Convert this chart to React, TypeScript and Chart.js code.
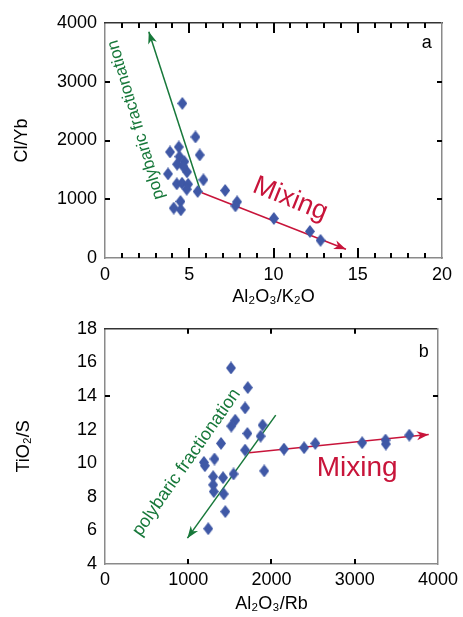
import React, { useEffect, useRef } from 'react';
import { Chart, registerables } from 'chart.js';

Chart.register(...registerables);

const FONT = '"Liberation Sans", Arial, Helvetica, sans-serif';
const BLUE = '#3f58a6';
const GREEN = '#17783a';
const RED = '#c8143a';
const FRAME = '#8a8a8a';
const FRAME_TOP = '#333333';

// ---------- Panel a : Cl/Yb vs Al2O3/K2O ----------
const aAl2O3K2O = [4.59, 5.37, 3.86, 4.38, 5.62, 4.42, 4.71, 4.28, 4.87, 3.74, 4.65, 5.84, 4.26, 4.57, 4.93, 4.85, 5.5, 7.13, 7.84, 7.74, 4.48, 4.08, 4.5, 10.02, 12.16, 12.79];
const aClYb = [2631, 2060, 1805, 1890, 1754, 1726, 1641, 1596, 1465, 1431, 1556, 1330, 1262, 1273, 1256, 1171, 1132, 1149, 956, 888, 962, 849, 820, 673, 453, 300];
const aMixX = [5.75, 14.3];
const aMixY = [1110, 150];
const aFracX = [5.7, 2.6];
const aFracY = [1110, 3850];
const aXTicks = [0, 5, 10, 15, 20];
const aYTicks = [0, 1000, 2000, 3000, 4000];
const aXMinor = [1, 2, 3, 4, 6, 7, 8, 9, 11, 12, 13, 14, 16, 17, 18, 19];
const aXMajor = [5, 10, 15];
const aYMarks = [1000, 2000, 3000];

// ---------- Panel b : TiO2/S vs Al2O3/Rb ----------
const bAl2O3Rb = [1513, 1715, 1683, 1564, 1517, 1893, 1711, 1869, 1394, 1683, 2150, 2392, 2526, 3089, 3370, 3374, 3655, 1188, 1200, 1315, 1544, 1913, 1299, 1418, 1299, 1307, 1426, 1445, 1240];
const bTiO2S = [15.67, 14.5, 13.29, 12.56, 12.21, 12.27, 11.77, 11.61, 11.18, 10.78, 10.84, 10.92, 11.18, 11.22, 11.38, 11.14, 11.67, 10.05, 9.85, 10.25, 9.36, 9.54, 9.2, 9.14, 8.71, 8.31, 8.17, 7.12, 6.1];
const bMixX = [1731, 3889];
const bMixY = [10.62, 11.71];
const bFracX = [2051, 990];
const bFracY = [12.86, 5.54];
const bXTicks = [0, 1000, 2000, 3000, 4000];
const bYTicks = [4, 6, 8, 10, 12, 14, 16, 18];
const bXMarks = [1000, 2000, 3000];
const bYMarks = [14];

type Note = { text: string; x: number; y: number; size: number; color: string; rotation: number; baseline?: CanvasTextBaseline };
type Mark = { side: 'top' | 'bottom' | 'left' | 'right'; values: number[]; len: number };

const aNotes: Note[] = [
  { text: 'a', x: 19.1, y: 3655, size: 18, color: '#000', rotation: 0 },
  { text: 'polybaric fractionation', x: 1.84, y: 2353, size: 17, color: GREEN, rotation: -106.5 },
  { text: 'Mixing', x: 10.99, y: 1002, size: 27, color: RED, rotation: 22 },
];
const bNotes: Note[] = [
  { text: 'b', x: 3829, y: 16.61, size: 18, color: '#000', rotation: 0 },
  { text: 'polybaric fractionation', x: 980, y: 10.04, size: 18, color: GREEN, rotation: -55 },
  { text: 'Mixing', x: 3030, y: 9.25, size: 28, color: RED, rotation: 0, baseline: 'alphabetic' },
];

const aMarks: Mark[] = [
  { side: 'bottom', values: aXMinor, len: 5 },
  { side: 'bottom', values: aXMajor, len: 10 },
  { side: 'top', values: aXMinor, len: 5 },
  { side: 'top', values: aXMajor, len: 10 },
  { side: 'left', values: aYMarks, len: 5 },
  { side: 'right', values: aYMarks, len: 5 },
];
const bMarks: Mark[] = [
  { side: 'bottom', values: bXMarks, len: 5 },
  { side: 'top', values: bXMarks, len: 5 },
  { side: 'left', values: bYMarks, len: 5 },
  { side: 'right', values: bYMarks, len: 5 },
];

function zip(xs: number[], ys: number[]) {
  return xs.map((x, i) => ({ x, y: ys[i] }));
}

function makeDiamond(): HTMLCanvasElement {
  const c = document.createElement('canvas');
  c.width = 10;
  c.height = 13;
  const g = c.getContext('2d')!;
  g.fillStyle = BLUE;
  g.beginPath();
  g.moveTo(5, 0);
  g.lineTo(10, 6.5);
  g.lineTo(5, 13);
  g.lineTo(0, 6.5);
  g.closePath();
  g.fill();
  return c;
}

const arrowPlugin = {
  id: 'arrowHeads',
  afterDatasetsDraw(chart: any) {
    const ctx = chart.ctx;
    chart.data.datasets.forEach((ds: any, i: number) => {
      if (!ds.arrowHead) return;
      const pts = chart.getDatasetMeta(i).data;
      const p1 = pts[pts.length - 2];
      const p2 = pts[pts.length - 1];
      const ang = Math.atan2(p2.y - p1.y, p2.x - p1.x);
      const L = 12, W = 4.5, back = 3.5;
      ctx.save();
      ctx.translate(p2.x, p2.y);
      ctx.rotate(ang);
      ctx.beginPath();
      ctx.moveTo(0, 0);
      ctx.lineTo(-L, -W);
      ctx.lineTo(-L + back, 0);
      ctx.lineTo(-L, W);
      ctx.closePath();
      ctx.fillStyle = ds.borderColor;
      ctx.fill();
      ctx.restore();
    });
  },
};

function notesPlugin(notes: Note[]) {
  return {
    id: 'notes',
    afterDatasetsDraw(chart: any) {
      const ctx = chart.ctx;
      for (const n of notes) {
        const px = chart.scales.x.getPixelForValue(n.x);
        const py = chart.scales.y.getPixelForValue(n.y);
        ctx.save();
        ctx.translate(px, py);
        ctx.rotate((n.rotation * Math.PI) / 180);
        ctx.font = `${n.size}px ${FONT}`;
        ctx.fillStyle = n.color;
        ctx.textAlign = 'center';
        ctx.textBaseline = n.baseline || 'middle';
        ctx.fillText(n.text, 0, 0);
        ctx.restore();
      }
    },
  };
}

// inward tick marks, placed with the chart's own x / y scales
function marksPlugin(marks: Mark[]) {
  return {
    id: 'tickMarks',
    beforeDatasetsDraw(chart: any) {
      const ctx = chart.ctx;
      const a = chart.chartArea;
      const xs = chart.scales.x;
      const ys = chart.scales.y;
      ctx.save();
      ctx.strokeStyle = '#000';
      ctx.lineWidth = 2;
      ctx.lineCap = 'butt';
      ctx.beginPath();
      for (const m of marks) {
        for (const v of m.values) {
          if (m.side === 'bottom' || m.side === 'top') {
            const px = Math.round(xs.getPixelForValue(v));
            const y0 = m.side === 'bottom' ? a.bottom : a.top;
            const y1 = m.side === 'bottom' ? a.bottom - m.len : a.top + m.len;
            ctx.moveTo(px, y0);
            ctx.lineTo(px, y1);
          } else {
            const py = Math.round(ys.getPixelForValue(v));
            const x0 = m.side === 'left' ? a.left : a.right;
            const x1 = m.side === 'left' ? a.left + m.len : a.right - m.len;
            ctx.moveTo(x0, py);
            ctx.lineTo(x1, py);
          }
        }
      }
      ctx.stroke();
      ctx.restore();
    },
  };
}

function setTicks(values: number[]) {
  return (s: any) => {
    s.ticks = values.map((v) => ({ value: v }));
  };
}

function frameAxis(position: string, min: number, max: number, color: string) {
  const horiz = position === 'top' || position === 'bottom';
  return {
    type: 'linear',
    position,
    min,
    max,
    weight: 0,
    ticks: { display: false },
    grid: { display: false, drawTicks: false },
    border: { display: true, color, width: 1.5 },
    afterFit: (s: any) => {
      if (horiz) s.height = 0;
      else s.width = 0;
    },
  };
}

function buildConfig(p: {
  points: { x: number; y: number }[];
  mix: { x: number; y: number }[];
  frac: { x: number; y: number }[];
  xMin: number; xMax: number; yMin: number; yMax: number;
  xTicks: number[]; yTicks: number[];
  xTitle: string; yTitle: string;
  marks: Mark[];
  padTop: number; padRight: number; xAxisH: number; yAxisW: number;
  xLabelPad: number; xTitlePad: number; yTitlePad: number;
  notes: Note[];
}) {
  const diamond = makeDiamond();
  const tickFont = { family: FONT, size: 18 };
  const frameBorder = { display: true, color: FRAME, width: 1.5 };
  const fmt = (v: any) => String(v);
  return {
    type: 'scatter',
    data: {
      datasets: [
        { data: p.points, pointStyle: diamond, pointRadius: 6, backgroundColor: BLUE, order: 0 },
        { data: p.mix, showLine: true, borderColor: RED, borderWidth: 1.5, pointRadius: 0, arrowHead: true, order: 1 },
        { data: p.frac, showLine: true, borderColor: GREEN, borderWidth: 1.5, pointRadius: 0, arrowHead: true, order: 1 },
      ],
    },
    options: {
      animation: false,
      responsive: false,
      events: [],
      layout: { padding: { top: p.padTop, right: p.padRight, left: 0, bottom: 0 } },
      plugins: { legend: { display: false }, tooltip: { enabled: false } },
      scales: {
        x: {
          type: 'linear', position: 'bottom', min: p.xMin, max: p.xMax, weight: 1,
          afterBuildTicks: setTicks(p.xTicks),
          grid: { display: false, drawTicks: false },
          border: frameBorder,
          ticks: { font: tickFont, color: '#000', padding: p.xLabelPad, maxRotation: 0, minRotation: 0, autoSkip: false, callback: fmt },
          title: { display: true, text: p.xTitle, color: '#000', font: tickFont, padding: { top: 0, bottom: p.xTitlePad } },
          afterFit: (s: any) => { s.height = p.xAxisH; },
        },
        y: {
          type: 'linear', position: 'left', min: p.yMin, max: p.yMax, weight: 1,
          afterBuildTicks: setTicks(p.yTicks),
          grid: { display: false, drawTicks: false },
          border: frameBorder,
          ticks: { font: tickFont, color: '#000', padding: 8, autoSkip: false, callback: fmt },
          title: { display: true, text: p.yTitle, color: '#000', font: tickFont, padding: { top: p.yTitlePad, bottom: 0 } },
          afterFit: (s: any) => { s.width = p.yAxisW; },
        },
        xTop: frameAxis('top', p.xMin, p.xMax, FRAME_TOP),
        yRight: frameAxis('right', p.yMin, p.yMax, FRAME),
      },
    },
    plugins: [marksPlugin(p.marks), arrowPlugin, notesPlugin(p.notes)],
  } as any;
}

function configA() {
  return buildConfig({
    points: zip(aAl2O3K2O, aClYb),
    mix: zip(aMixX, aMixY),
    frac: zip(aFracX, aFracY),
    xMin: 0, xMax: 20, yMin: 0, yMax: 4000,
    xTicks: aXTicks, yTicks: aYTicks,
    xTitle: 'Al₂O₃/K₂O', yTitle: 'Cl/Yb',
    marks: aMarks,
    padTop: 23, padRight: 21, xAxisH: 52, yAxisW: 105,
    xLabelPad: 6, xTitlePad: 2, yTitlePad: 11,
    notes: aNotes,
  });
}

function configB() {
  return buildConfig({
    points: zip(bAl2O3Rb, bTiO2S),
    mix: zip(bMixX, bMixY),
    frac: zip(bFracX, bFracY),
    xMin: 0, xMax: 4000, yMin: 4, yMax: 18,
    xTicks: bXTicks, yTicks: bYTicks,
    xTitle: 'Al₂O₃/Rb', yTitle: 'TiO₂/S',
    marks: bMarks,
    padTop: 18, padRight: 21, xAxisH: 53, yAxisW: 105,
    xLabelPad: 5, xTitlePad: 2, yTitlePad: 13,
    notes: bNotes,
  });
}

export default function App() {
  const refA = useRef<HTMLCanvasElement>(null);
  const refB = useRef<HTMLCanvasElement>(null);
  useEffect(() => {
    const ca = new Chart(refA.current as HTMLCanvasElement, configA());
    const cb = new Chart(refB.current as HTMLCanvasElement, configB());
    return () => {
      ca.destroy();
      cb.destroy();
    };
  }, []);
  return (
    <div style={{ position: 'absolute', left: 0, top: 0, width: 463, height: 617, background: '#fff' }}>
      <div style={{ position: 'absolute', left: 0, top: 0, width: 463, height: 310 }}>
        <canvas ref={refA} width={463} height={310} style={{ display: 'block' }} />
      </div>
      <div style={{ position: 'absolute', left: 0, top: 310, width: 463, height: 307 }}>
        <canvas ref={refB} width={463} height={307} style={{ display: 'block' }} />
      </div>
    </div>
  );
}
